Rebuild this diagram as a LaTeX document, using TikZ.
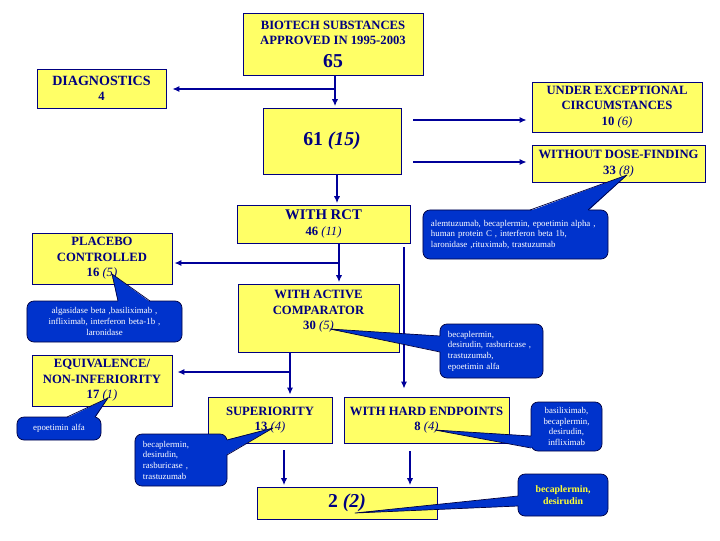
\documentclass[tikz,border=0pt]{standalone}
\usepackage{fontspec}
\setmainfont{Liberation Serif}
\usetikzlibrary{arrows.meta}
\definecolor{amarillo}{HTML}{FFFF66}
\definecolor{marino}{HTML}{000080}
\definecolor{flecha}{HTML}{000099}
\definecolor{azulnota}{HTML}{0033CC}
\definecolor{borde}{HTML}{000040}
\definecolor{amarillonota}{HTML}{FFFF33}
\newcommand{\cursiva}[1]{{\mdseries\itshape #1}}
\newcommand{\grande}{\fontsize{14}{16}\selectfont}

\begin{document}
\begin{tikzpicture}[x=0.025cm, y=-0.025cm,
    caja/.style={rectangle, draw=marino, line width=0.6pt, fill=amarillo, align=center, text=marino, font=\bfseries\fontsize{9}{11}\selectfont, inner sep=0pt},
    nota/.style={rectangle, rounded corners=5pt, draw=borde, line width=0.5pt, fill=azulnota, text=white, font=\fontsize{6.3}{7.6}\selectfont, inner xsep=0.2cm, inner ysep=0pt},
    punta/.style={fill=azulnota},
    bordepunta/.style={draw=borde, line width=0.5pt, line join=round},
    flujo/.style={-{Latex[length=5pt,width=4.5pt]}, line width=1.3pt, flecha},
]
\fill[white] (0,0) rectangle (720,540);
\useasboundingbox (0,0) rectangle (720,540);

\node (top) [caja, minimum width=4.5cm, minimum height=1.55cm] at (333,44) {BIOTECH SUBSTANCES\\APPROVED IN 1995-2003\\[5pt]{\grande 65}};

\node (diag) [caja, minimum width=3.225cm, minimum height=0.975cm] at (101.5,88.5) {{\fontsize{10}{12}\selectfont DIAGNOSTICS}\\4};

\node (mid) [caja, minimum width=3.45cm, minimum height=1.65cm] at (332,141) {\grande 61 \textit{(15)}};

\node (uec) [caja, minimum width=4.25cm, minimum height=1.25cm] at (617,107) {UNDER EXCEPTIONAL\\CIRCUMSTANCES\\10 \cursiva{(6)}};

\node (wdf) [caja, minimum width=4.325cm, minimum height=0.925cm] at (618.5,163.5) {WITHOUT DOSE-FINDING\\33 \cursiva{(8)}};

\node (rct) [caja, minimum width=4.325cm, minimum height=0.95cm] at (323.5,224) {{\fontsize{10.5}{12}\selectfont WITH RCT}\\46 \cursiva{(11)}};

\node (plac) [caja, minimum width=3.5cm, minimum height=1.275cm] at (102,258.5) {PLACEBO\\CONTROLLED\\16 \cursiva{(5)}};

\node (act) [caja, minimum width=4.025cm, minimum height=1.7cm] at (318.5,318) {WITH ACTIVE\\COMPARATOR\\30 \cursiva{(5)}\\~};

\node (equ) [caja, minimum width=3.5cm, minimum height=1.275cm] at (102,380.5) {EQUIVALENCE/\\NON-INFERIORITY\\17 \cursiva{(1)}};

\node (sup) [caja, minimum width=3.1cm, minimum height=1.15cm] at (270,420) {SUPERIORITY\\13 \cursiva{(4)}};

\node (hard) [caja, minimum width=4.125cm, minimum height=1.15cm] at (426.5,420) {WITH HARD ENDPOINTS\\8 \cursiva{(4)}};

\node (fin) [caja, minimum width=4.5cm, minimum height=0.8cm] at (347,503) {\grande 2 \textit{(2)}};

\coordinate (rama1) at (335,89);
\coordinate (rama2) at (339,263);
\coordinate (rama3) at (290,372);

\draw [flujo, shorten >=1pt] (top.south -| rama1) -- (mid.north -| rama1);
\draw [flujo, shorten >=0.15cm] (rama1) -- (diag.east |- rama1);
\draw [flujo, shorten <=0.3cm, shorten >=0.125cm] (mid.east |- 0,120) -- (uec.west |- 0,120);
\draw [flujo, shorten <=0.3cm, shorten >=0.125cm] (mid.east |- 0,162) -- (wdf.west |- 0,162);
\draw [flujo, shorten >=1pt] (mid.south -| 337,0) -- (rct.north -| 337,0);
\draw [flujo, shorten >=1pt] (rct.south -| rama2) -- (act.north -| rama2);
\draw [flujo, shorten >=0.05cm] (rama2) -- (plac.east |- rama2);
\draw [flujo, shorten <=0.1cm, shorten >=0.2cm] (rct.south -| 404,0) -- (hard.north -| 404,0);
\draw [flujo, shorten >=0.05cm] (act.south -| rama3) -- (sup.north -| rama3);
\draw [flujo, shorten >=0.125cm] (rama3) -- (equ.east |- rama3);
\draw [flujo, shorten <=0.175cm, shorten >=1pt] (sup.south -| 284,0) -- (fin.north -| 284,0);
\draw [flujo, shorten <=0.2cm, shorten >=1pt] (hard.south -| 410,0) -- (fin.north -| 410,0);

\node (n1) [nota, text width=3.475cm, align=center, minimum height=1.025cm] at (104.5,321.5) {algasidase beta ,basiliximab ,\\infliximab, interferon beta-1b ,\\laronidase};
\coordinate (p1) at (112,274);
\fill [punta] (118,302) -- (p1) -- (150,302) -- cycle;
\draw [bordepunta] (118,301) -- (p1) -- (150,301);

\node (n2) [nota, text width=4.225cm, align=left, minimum height=1.225cm] at (515.5,234.5) {alemtuzumab, becaplermin, epoetimin alpha ,\\human protein C , interferon beta 1b,\\laronidase ,rituximab, trastuzumab};
\coordinate (p2) at (627,175);
\fill [punta] (530,211) -- (p2) -- (588,211) -- cycle;
\draw [bordepunta] (530,210) -- (p2) -- (588,210);

\node (n3) [nota, text width=2.175cm, align=left, minimum height=1.35cm] at (491.5,351) {becaplermin,\\desirudin, rasburicase ,\\trastuzumab,\\epoetimin alfa};
\coordinate (p3) at (330,329);
\fill [punta] (441,336) -- (p3) -- (441,352) -- cycle;
\draw [bordepunta] (440,336) -- (p3) -- (440,352);

\node (n4) [nota, text width=1.7cm, align=center, minimum height=0.575cm] at (59,428.5) {epoetimin alfa};
\coordinate (p4) at (108,398);
\fill [punta] (67,418) -- (p4) -- (95,418) -- cycle;
\draw [bordepunta] (67,417) -- (p4) -- (95,417);

\node (n5) [nota, text width=1.9cm, align=left, minimum height=1.3cm] at (181,460) {becaplermin,\\desirudin,\\rasburicase ,\\trastuzumab};
\coordinate (p5) at (273,428);
\fill [punta] (226,440) -- (p5) -- (226,455) -- cycle;
\draw [bordepunta] (227,440) -- (p5) -- (227,455);

\node (n6) [nota, text width=1.375cm, align=center, minimum height=1.225cm] at (566.5,426.5) {basiliximab,\\becaplermin,\\desirudin,\\infliximab};
\coordinate (p6) at (435,430);
\fill [punta] (532,436) -- (p6) -- (532,448) -- cycle;
\draw [bordepunta] (531,436) -- (p6) -- (531,448);

\node (n7) [nota, text width=1.85cm, align=center, minimum height=1.05cm, text=amarillonota, font=\bfseries\fontsize{7}{8.5}\selectfont] at (563,495) {becaplermin,\\desirudin};
\coordinate (p7) at (355,513);
\fill [punta] (519,496) -- (p7) -- (519,506) -- cycle;
\draw [bordepunta] (518,496) -- (p7) -- (518,506);

\end{tikzpicture}
\end{document}
